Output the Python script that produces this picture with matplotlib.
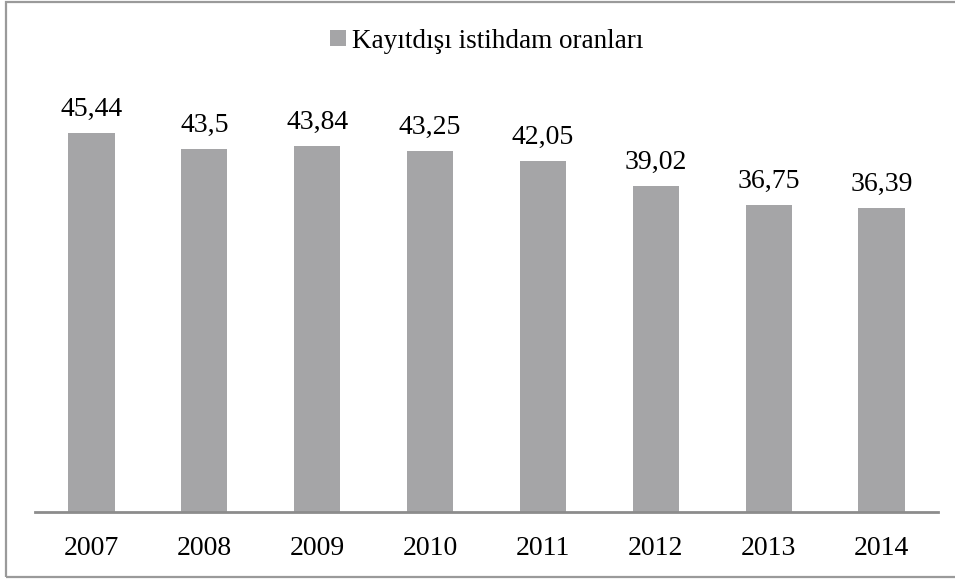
import matplotlib
matplotlib.use("Agg")
import matplotlib.pyplot as plt
from matplotlib.patches import Rectangle, Patch

years = ["2007", "2008", "2009", "2010", "2011", "2012", "2013", "2014"]
values = [45.44, 43.5, 43.84, 43.25, 42.05, 39.02, 36.75, 36.39]
labels = ["45,44", "43,5", "43,84", "43,25", "42,05", "39,02", "36,75", "36,39"]
series_name = "Kayıtdışı istihdam oranları"

plt.rcParams['font.family'] = ['Liberation Serif', 'DejaVu Serif']

W, H = 955, 579
fig = plt.figure(figsize=(W/100, H/100), dpi=100)
ax = fig.add_axes([35/W, 1-512/H, (938-35)/W, 417.5/H])

bar_color = "#A5A5A7"
x = list(range(len(years)))
bars = ax.bar(x, values, width=0.41, color=bar_color, zorder=2)
for xi, v, lab in zip(x, values, labels):
    ax.annotate(lab, (xi, v), xytext=(0, 8), textcoords="offset points",
                ha="center", va="bottom", fontsize=20, color="#000000")

ax.set_xlim(-0.5, len(years)-0.5)
ax.set_ylim(0, 50)
ax.set_xticks(x)
ax.set_xticklabels(years, fontsize=20, color="#000000")
ax.tick_params(axis='x', length=0, pad=17)
ax.set_yticks([])
for s in ["top", "right", "left"]:
    ax.spines[s].set_visible(False)
ax.spines["bottom"].set_color("#8C8C8C")
ax.spines["bottom"].set_linewidth(2)

handle = Patch(facecolor=bar_color, edgecolor='none')
fig.legend([handle], [series_name], loc="center", bbox_to_anchor=(487/W, 1-41/H),
           frameon=False, fontsize=19.5, handlelength=0.56, handleheight=0.56,
           handletextpad=0.25, borderpad=0)

frame = Rectangle((6/W, 1-577/H), 1.2, (577-1.5)/H, transform=fig.transFigure,
                  fill=False, edgecolor="#9A9A9A", linewidth=1.6)
fig.patches.append(frame)

fig.savefig("out.png", dpi=100)
